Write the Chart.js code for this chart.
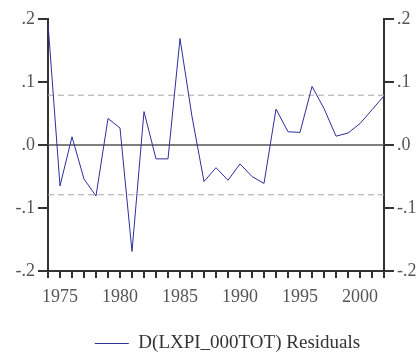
<!DOCTYPE html>
<html>
<head>
<meta charset="utf-8">
<script src="https://cdn.jsdelivr.net/npm/chart.js@4"></script>
<style>
  body { margin: 0; background: #fff; }
  #wrap { width: 417px; height: 360px; }
</style>
</head>
<body>
<div id="wrap"><canvas id="chart"></canvas></div>
<script>
const years = [1974, 1975, 1976, 1977, 1978, 1979, 1980, 1981, 1982, 1983,
               1984, 1985, 1986, 1987, 1988, 1989, 1990, 1991, 1992, 1993,
               1994, 1995, 1996, 1997, 1998, 1999, 2000, 2001, 2002];
const residuals = [0.193, -0.065, 0.013, -0.054, -0.081, 0.042, 0.027, -0.169, 0.053, -0.022,
                   -0.022, 0.169, 0.045, -0.058, -0.036, -0.056, -0.030, -0.050, -0.061, 0.057,
                   0.021, 0.020, 0.093, 0.058, 0.014, 0.019, 0.034, 0.056, 0.078];
const bandLevel = 0.079;
const yTicks = [-0.2, -0.1, 0, 0.1, 0.2];
const seriesLabel = 'D(LXPI_000TOT) Residuals';

const fmt = v => {
  const r = Math.round(v * 10) / 10;
  if (r === 0) return '.0';
  return (r < 0 ? '-' : '') + Math.abs(r).toFixed(1).replace(/^0/, '');
};

const first = years[0], last = years[years.length - 1];
const flat = y => [{x: first, y: y}, {x: last, y: y}];

const axisColor = '#333';
const tickFont = { family: 'Liberation Serif', size: 18 };

const yAxis = (pos, w) => ({
  type: 'linear',
  position: pos,
  min: -0.2,
  max: 0.2,
  afterBuildTicks: s => { s.ticks = yTicks.map(v => ({ value: v })); },
  afterFit: s => { s.width = w; },
  border: { display: true, color: axisColor, width: 2 },
  grid: { drawOnChartArea: false, drawTicks: true, tickLength: 10, color: axisColor, tickColor: axisColor, lineWidth: 2 },
  ticks: { color: '#555', font: tickFont, padding: 3, callback: v => fmt(v) }
});

// legend sits a bit right of centre in the original
const shiftLegend = {
  id: 'shiftLegend',
  afterLayout(chart) {
    chart.legend.left += 19;
    chart.legend.right += 19;
  }
};

new Chart(document.getElementById('chart'), {
  type: 'line',
  data: {
    datasets: [
      {
        label: seriesLabel,
        data: years.map((y, i) => ({ x: y, y: residuals[i] })),
        borderColor: '#2e2e9c',
        backgroundColor: '#2e2e9c',
        borderWidth: 1,
        pointRadius: 0,
        tension: 0
      },
      {
        label: 'zero',
        data: flat(0),
        borderColor: '#555',
        borderWidth: 1.5,
        pointRadius: 0
      },
      {
        label: 'upper',
        data: flat(bandLevel),
        borderColor: '#b0a6a4',
        borderWidth: 1,
        borderDash: [6, 4],
        pointRadius: 0
      },
      {
        label: 'lower',
        data: flat(-bandLevel),
        borderColor: '#b0a6a4',
        borderWidth: 1,
        borderDash: [6, 4],
        pointRadius: 0
      }
    ]
  },
  options: {
    responsive: true,
    maintainAspectRatio: false,
    animation: false,
    layout: { padding: { top: 19, left: 0, right: 0, bottom: -3 } },
    plugins: {
      tooltip: { enabled: false },
      legend: {
        position: 'bottom',
        labels: {
          filter: item => item.datasetIndex === 0,
          usePointStyle: true,
          pointStyle: 'line',
          pointStyleWidth: 34,
          color: '#333',
          font: { family: 'Liberation Serif', size: 19 },
          padding: 6
        }
      }
    },
    scales: {
      x: {
        type: 'linear',
        min: first,
        max: last,
        afterBuildTicks: s => { s.ticks = years.map(v => ({ value: v })); },
        afterFit: s => { s.height = 57; },
        border: { display: true, color: axisColor, width: 2 },
        grid: { drawOnChartArea: false, drawTicks: true, tickLength: 7, color: axisColor, tickColor: axisColor, lineWidth: 2 },
        ticks: { color: '#555', font: tickFont, padding: 8, autoSkip: false, maxRotation: 0,
                 callback: v => (v % 5 === 0 ? String(v) : '') }
      },
      y: yAxis('left', 48),
      y2: yAxis('right', 33)
    }
  },
  plugins: [shiftLegend]
});
</script>
</body>
</html>
